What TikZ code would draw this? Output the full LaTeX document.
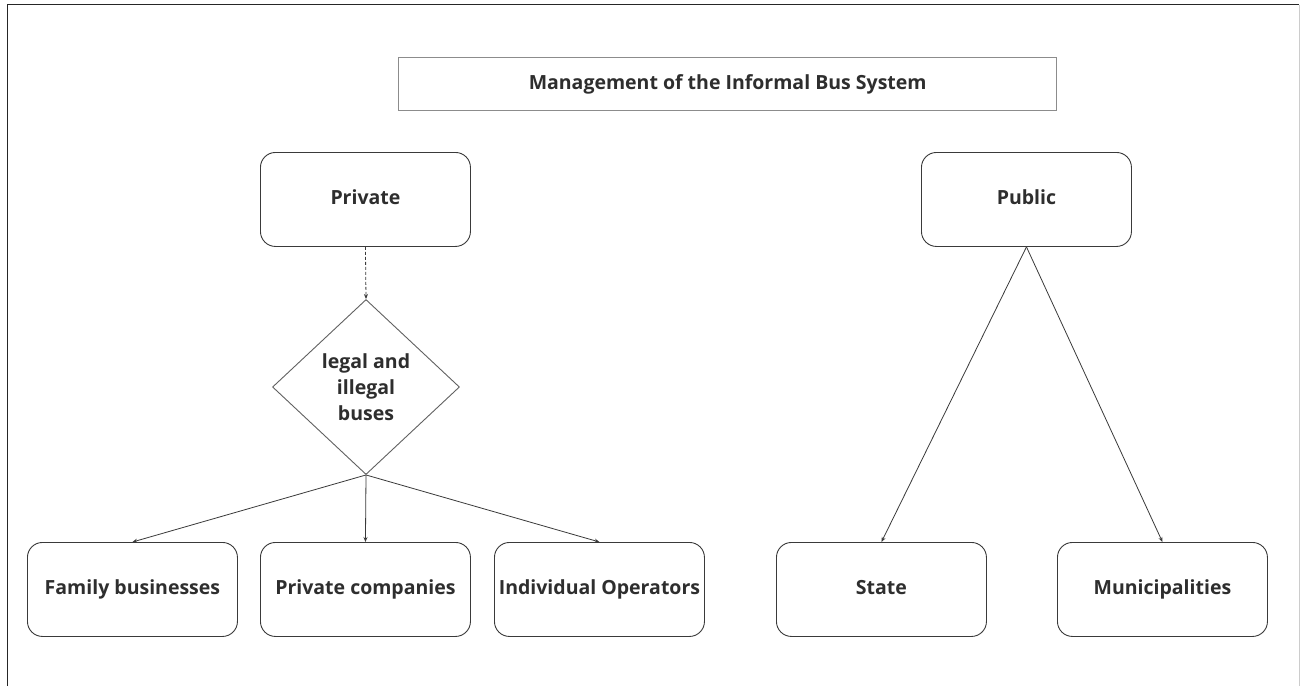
\documentclass[tikz,border=0pt]{standalone}
\usepackage{fontspec}
\setmainfont{Open Sans}
\usetikzlibrary{shapes.geometric,arrows.meta}
\definecolor{txt}{HTML}{2E2E2E}
\definecolor{edge}{HTML}{3A3A3A}
\tikzset{
  lbl/.style={font=\fontsize{19.5}{26}\selectfont\bfseries, text=txt},
  rbox/.style={lbl, draw=edge, line width=0.9pt, rounded corners=15pt, minimum width=210pt, minimum height=94pt, inner sep=0pt, text height=14pt, text depth=4pt, anchor=north west},
  titlebox/.style={lbl, draw=black!45, line width=1.4pt, minimum width=658pt, minimum height=53pt, inner sep=0pt, text height=14pt, text depth=4pt, anchor=north west},
  dia/.style={lbl, draw=edge!80, line width=0.9pt, diamond, minimum width=187pt, minimum height=175pt, inner sep=0pt, aspect=1.0686, align=center},
  conn/.style={draw=edge, line width=0.8pt, -{Stealth[length=5pt,width=4pt]}},
}
\begin{document}
\begin{tikzpicture}[x=1pt,y=-1pt]
\useasboundingbox (0,0) rectangle (1306,686);
\fill[white] (0,0) rectangle (1306,686);
\draw[black!85, line width=1.5pt] (7.5,686) -- (7.5,4.5) -- (1299,4.5);
\draw[black!20, line width=1pt] (1299,4.5) -- (1299,686);
\node[titlebox] (title) at (398,57) {Management of the Informal Bus System};
\node[rbox] (priv) at (260,152) {Private};
\node[rbox] (pub) at (921,152) {Public};
\node[dia] (legal) at (366,387) {legal and\\illegal\\buses};
\node[rbox] (fam) at (27,542) {Family businesses};
\node[rbox] (pc) at (260,542) {Private companies};
\node[rbox] (ind) at (494,542) {Individual Operators};
\node[rbox] (state) at (776,542) {State};
\node[rbox] (mun) at (1057,542) {Municipalities};
\draw[conn, dashed, dash pattern=on 3pt off 2pt] (priv.south) -- (legal.north);
\draw[conn] (legal.south) -- (fam.north);
\draw[conn] (legal.south) -- (pc.north);
\draw[conn] (legal.south) -- (ind.north);
\draw[conn] (pub.south) -- (state.north);
\draw[conn] (pub.south) -- (mun.north);
\end{tikzpicture}
\end{document}
